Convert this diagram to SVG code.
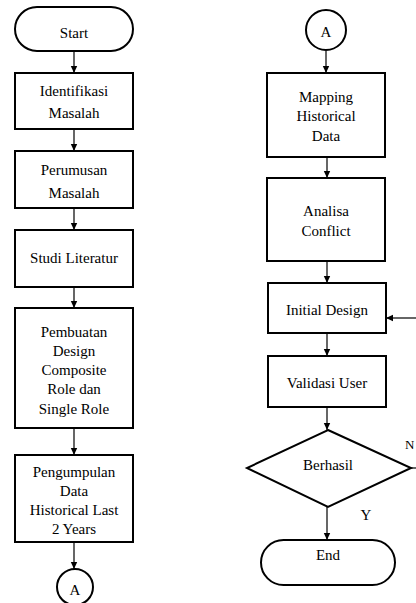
<svg xmlns="http://www.w3.org/2000/svg" width="416" height="603" viewBox="0 0 416 603">
<style>
.n{fill:#fff;stroke:#000;stroke-width:2}
.t{font-family:"Liberation Serif","DejaVu Serif","Times New Roman",serif;font-size:15px;fill:#000;text-anchor:middle}
.c{stroke:#000;stroke-width:1.2;fill:none}
</style>
<defs>
<marker id="ah" markerWidth="8" markerHeight="8" refX="7" refY="4" orient="auto" markerUnits="userSpaceOnUse">
<path d="M0,0.8 L7,4 L0,7.2 Z" fill="#000"/>
</marker>
</defs>
<rect width="416" height="603" fill="#fff"/>
<g id="connectors">
<line class="c" x1="74" y1="51" x2="74" y2="73" marker-end="url(#ah)"/>
<line class="c" x1="74" y1="129" x2="74" y2="151" marker-end="url(#ah)"/>
<line class="c" x1="74" y1="208" x2="74" y2="230" marker-end="url(#ah)"/>
<line class="c" x1="74" y1="287" x2="74" y2="308" marker-end="url(#ah)"/>
<line class="c" x1="74" y1="428" x2="74" y2="455" marker-end="url(#ah)"/>
<line class="c" x1="74" y1="542" x2="74" y2="569" marker-end="url(#ah)"/>
<line class="c" x1="326" y1="51" x2="326" y2="73" marker-end="url(#ah)"/>
<line class="c" x1="327" y1="157" x2="327" y2="178" marker-end="url(#ah)"/>
<line class="c" x1="327" y1="261" x2="327" y2="283" marker-end="url(#ah)"/>
<line class="c" x1="327" y1="333" x2="327" y2="356" marker-end="url(#ah)"/>
<line class="c" x1="327" y1="407" x2="327" y2="430" marker-end="url(#ah)"/>
<line class="c" x1="327" y1="507" x2="327" y2="540" marker-end="url(#ah)"/>
<line class="c" x1="416" y1="318" x2="386" y2="318" marker-end="url(#ah)"/>
<line class="c" x1="411" y1="468" x2="416" y2="468"/>
<text class="t" x="366" y="520">Y</text>
<text class="t" x="405" y="449" style="text-anchor:start;font-size:13px">N</text>
</g>
<g id="start"><rect class="n" x="15" y="7" width="118" height="44" rx="22"/><text class="t" x="74" y="38">Start</text></g>
<g id="identifikasi"><rect class="n" x="15" y="73" width="118" height="56"/><text class="t" x="74" y="96">Identifikasi</text><text class="t" x="74" y="118">Masalah</text></g>
<g id="perumusan"><rect class="n" x="15" y="151" width="118" height="57"/><text class="t" x="74" y="175">Perumusan</text><text class="t" x="74" y="198">Masalah</text></g>
<g id="studi"><rect class="n" x="15" y="230" width="118" height="57"/><text class="t" x="74" y="263">Studi Literatur</text></g>
<g id="pembuatan"><rect class="n" x="15" y="308" width="118" height="120"/><text class="t" x="74" y="337">Pembuatan</text><text class="t" x="74" y="356">Design</text><text class="t" x="74" y="375">Composite</text><text class="t" x="74" y="394">Role dan</text><text class="t" x="74" y="414">Single Role</text></g>
<g id="pengumpulan"><rect class="n" x="15" y="455" width="118" height="87"/><text class="t" x="74" y="477">Pengumpulan</text><text class="t" x="74" y="496">Data</text><text class="t" x="74" y="515">Historical Last</text><text class="t" x="74" y="534">2 Years</text></g>
<g id="a1"><circle class="n" cx="75" cy="587" r="18"/><text class="t" x="75" y="595">A</text></g>
<g id="a2"><circle class="n" cx="326" cy="30" r="20"/><text class="t" x="326" y="37">A</text></g>
<g id="mapping"><rect class="n" x="267" y="73" width="118" height="84"/><text class="t" x="326" y="102">Mapping</text><text class="t" x="326" y="121">Historical</text><text class="t" x="326" y="141">Data</text></g>
<g id="analisa"><rect class="n" x="267" y="178" width="118" height="83"/><text class="t" x="326" y="216">Analisa</text><text class="t" x="326" y="236">Conflict</text></g>
<g id="initial"><rect class="n" x="268" y="283" width="118" height="50"/><text class="t" x="327" y="315">Initial Design</text></g>
<g id="validasi"><rect class="n" x="268" y="356" width="118" height="51"/><text class="t" x="327" y="388">Validasi User</text></g>
<g id="berhasil"><polygon class="n" points="328,430 411,468 328,507 247,468"/><text class="t" x="328" y="470">Berhasil</text></g>
<g id="end"><rect class="n" x="261" y="540" width="134" height="45" rx="22.5"/><text class="t" x="328" y="560">End</text></g>
</svg>
